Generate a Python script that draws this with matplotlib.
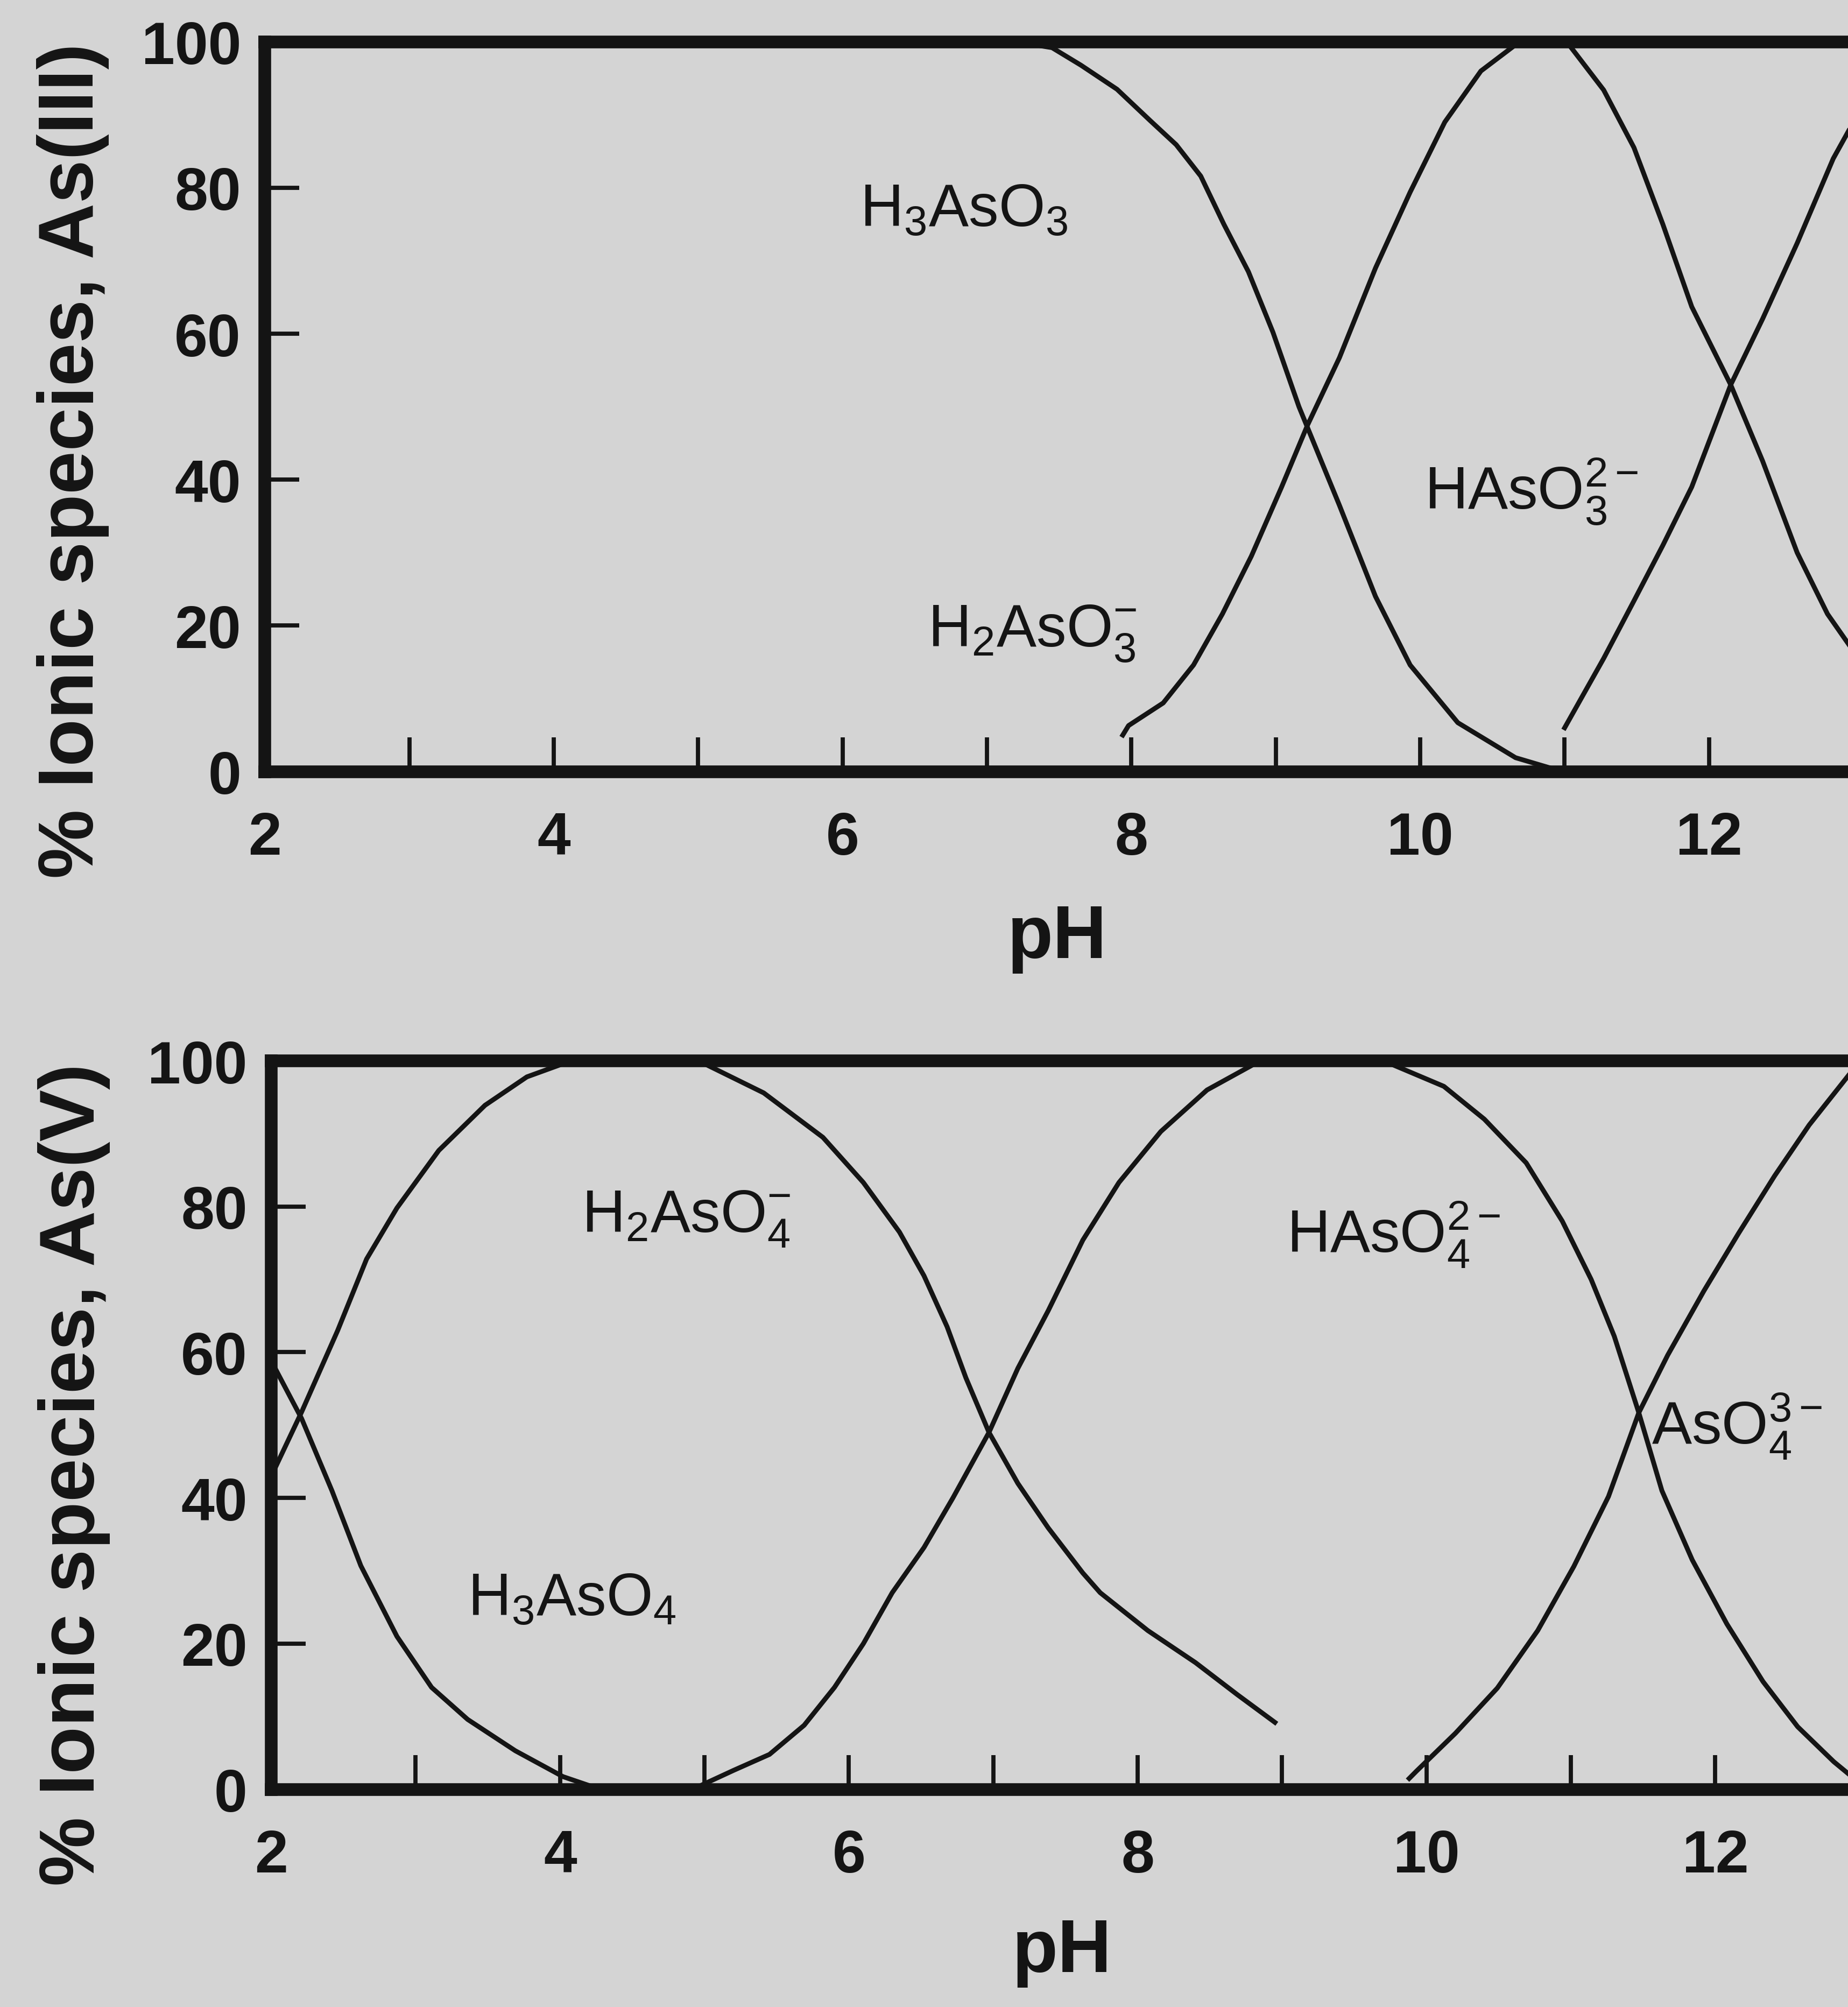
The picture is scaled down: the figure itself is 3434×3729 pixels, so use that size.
import matplotlib
matplotlib.use("Agg")
import matplotlib.pyplot as plt

plt.rcParams['font.family'] = ['Liberation Sans', 'DejaVu Sans']
plt.rcParams['mathtext.fontset'] = 'custom'
plt.rcParams['mathtext.rm'] = 'Liberation Sans'
plt.rcParams['mathtext.it'] = 'Liberation Sans:italic'
plt.rcParams['mathtext.bf'] = 'Liberation Sans:bold'

# ---------------- As(III) data (pH, % species) ----------------
h3aso3_ph = [2.0, 7.2, 7.45, 7.65, 7.9, 8.13, 8.31, 8.48, 8.64, 8.81, 8.98, 9.16, 9.44, 9.69, 9.93, 10.26, 10.66, 10.95]
h3aso3_pc = [100, 100, 99.2, 96.8, 93.5, 89.2, 85.9, 81.6, 75, 68.5, 60.2, 50, 36.5, 24, 14.6, 6.7, 1.9, 0.2]

h2aso3_ph = [7.94, 7.98, 8.22, 8.43, 8.63, 8.83, 9.04, 9.22, 9.44, 9.69, 9.93, 10.17, 10.42, 10.66, 11.03, 11.27, 11.48, 11.68, 11.88, 12.15, 12.37, 12.61, 12.82, 13.0, 13.2]
h2aso3_pc = [5.0, 6.3, 9.4, 14.6, 21.6, 29.5, 39, 47.5, 56.7, 69, 79.4, 89, 96, 99.6, 99.6, 93.4, 85.5, 75, 63.7, 53, 42.6, 30, 21.6, 16.5, 12]

haso3_ph = [11.0, 11.27, 11.48, 11.68, 11.88, 12.15, 12.37, 12.61, 12.86, 13.0, 13.2]
haso3_pc = [6.0, 15.5, 23.4, 31, 39, 53, 62, 72.4, 84, 89, 94]

# ---------------- As(V) data (pH, % species) ----------------
h3aso4_ph = [2.0, 2.21, 2.42, 2.62, 2.87, 3.11, 3.36, 3.69, 4.02, 4.22, 4.5]
h3aso4_pc = [58.8, 50.9, 41, 30.7, 21, 14, 9.6, 5.3, 1.75, 0.4, 0.2]

h2aso4_ph = [2.0, 2.21, 2.46, 2.66, 2.87, 3.16, 3.48, 3.77, 4.02, 5.0, 5.41, 5.82, 6.1, 6.35, 6.52, 6.68, 6.81, 6.97, 7.17, 7.38, 7.62, 7.74, 8.07, 8.40, 8.69, 8.95]
h2aso4_pc = [43, 51.8, 63, 72.8, 79.8, 87.7, 93.9, 97.8, 99.6, 99.6, 95.6, 89.5, 83.3, 76.5, 70.5, 63.5, 56.5, 49, 42, 35.9, 29.7, 27, 21.8, 17.4, 13, 9.2]

haso4_ph = [4.5, 4.96, 5.2, 5.45, 5.69, 5.9, 6.1, 6.3, 6.52, 6.72, 6.97, 7.17, 7.38, 7.62, 7.87, 8.16, 8.48, 8.81, 9.06, 9.75, 10.12, 10.4, 10.69, 10.94, 11.14, 11.3, 11.47, 11.63, 11.84, 12.08, 12.33, 12.57, 12.82, 12.93, 13.2]
haso4_pc = [0.2, 0.4, 2.6, 4.8, 8.8, 14, 20, 27, 33.2, 40, 49, 57.8, 65.7, 75.4, 83.3, 90.3, 96, 99.6, 100, 99.6, 96.5, 92, 86, 78, 70, 62.2, 51.7, 41, 31.5, 22.7, 14.8, 8.6, 3.8, 2, 0.5]

aso4_ph = [9.88, 9.93, 10.2, 10.49, 10.77, 11.02, 11.26, 11.47, 11.67, 11.92, 12.16, 12.41, 12.65, 12.93, 13.2]
aso4_pc = [1.5, 2.5, 7.7, 13.9, 21.8, 30.6, 40.2, 51.7, 59.6, 68.4, 76.3, 84.2, 91.2, 98.2, 100]

xtick_major = [2, 4, 6, 8, 10, 12]
xtick_minor = [3, 5, 7, 9, 11, 13]
ytick_vals = [0, 20, 40, 60, 80, 100]

BG = '#d4d4d4'
INK = '#141414'

fig = plt.figure(figsize=(17.17, 18.65), dpi=200, facecolor=BG)

ax1 = fig.add_axes([0.1434, 0.6154, 0.9377, 0.3635])
ax2 = fig.add_axes([0.1468, 0.1084, 0.9377, 0.3629])

def style(ax):
    ax.set_facecolor(BG)
    ax.set_xlim(2, 14)
    ax.set_ylim(0, 100)
    ax.set_xticks(xtick_major)
    ax.set_xticks(xtick_minor, minor=True)
    ax.set_yticks(ytick_vals)
    for s in ax.spines.values():
        s.set_linewidth(8.5)
        s.set_color(INK)
    ax.tick_params(axis='both', which='both', direction='in', length=23, width=2.8,
                   color=INK, labelcolor=INK)
    ax.tick_params(axis='x', which='major', labelsize=40, pad=26)
    ax.tick_params(axis='y', which='major', labelsize=40, pad=16)
    for lab in ax.get_xticklabels() + ax.get_yticklabels():
        lab.set_fontweight('bold')

style(ax1)
style(ax2)

lw = 3.2
ax1.plot(h3aso3_ph, h3aso3_pc, color=INK, lw=lw)
ax1.plot(h2aso3_ph, h2aso3_pc, color=INK, lw=lw)
ax1.plot(haso3_ph, haso3_pc, color=INK, lw=lw)

ax2.plot(h3aso4_ph, h3aso4_pc, color=INK, lw=lw)
ax2.plot(h2aso4_ph, h2aso4_pc, color=INK, lw=lw)
ax2.plot(haso4_ph, haso4_pc, color=INK, lw=lw)
ax2.plot(aso4_ph, aso4_pc, color=INK, lw=lw)

fs = 40
ax1.text(6.12, 74.7, r'$\mathrm{H_3AsO_3}$', fontsize=fs, color=INK, ha='left', va='baseline')
ax1.text(6.59, 17.2, r'$\mathrm{H_2AsO_3^{-}}$', fontsize=fs, color=INK, ha='left', va='baseline')
ax1.text(10.03, 36.0, r'$\mathrm{HAsO_3^{2-}}$', fontsize=fs, color=INK, ha='left', va='baseline')

ax2.text(4.15, 76.6, r'$\mathrm{H_2AsO_4^{-}}$', fontsize=fs, color=INK, ha='left', va='baseline')
ax2.text(3.36, 23.9, r'$\mathrm{H_3AsO_4}$', fontsize=fs, color=INK, ha='left', va='baseline')
ax2.text(9.03, 73.8, r'$\mathrm{HAsO_4^{2-}}$', fontsize=fs, color=INK, ha='left', va='baseline')
ax2.text(11.56, 47.5, r'$\mathrm{AsO_4^{3-}}$', fontsize=fs, color=INK, ha='left', va='baseline')

fig.text(57 / 1444, 1 - 360 / 1568, '% Ionic species, As(III)', rotation=90, fontsize=52,
         fontweight='bold', color=INK, ha='center', va='center')
fig.text(58 / 1444, 1 - 1152 / 1568, '% Ionic species, As(V)', rotation=90, fontsize=52,
         fontweight='bold', color=INK, ha='center', va='center')
fig.text(826 / 1444, 1 - 733 / 1568, 'pH', fontsize=50, fontweight='bold', color=INK,
         ha='center', va='center')
fig.text(830 / 1444, 1 - 1525 / 1568, 'pH', fontsize=50, fontweight='bold', color=INK,
         ha='center', va='center')

fig.savefig('out.png', dpi=200, facecolor=BG)
